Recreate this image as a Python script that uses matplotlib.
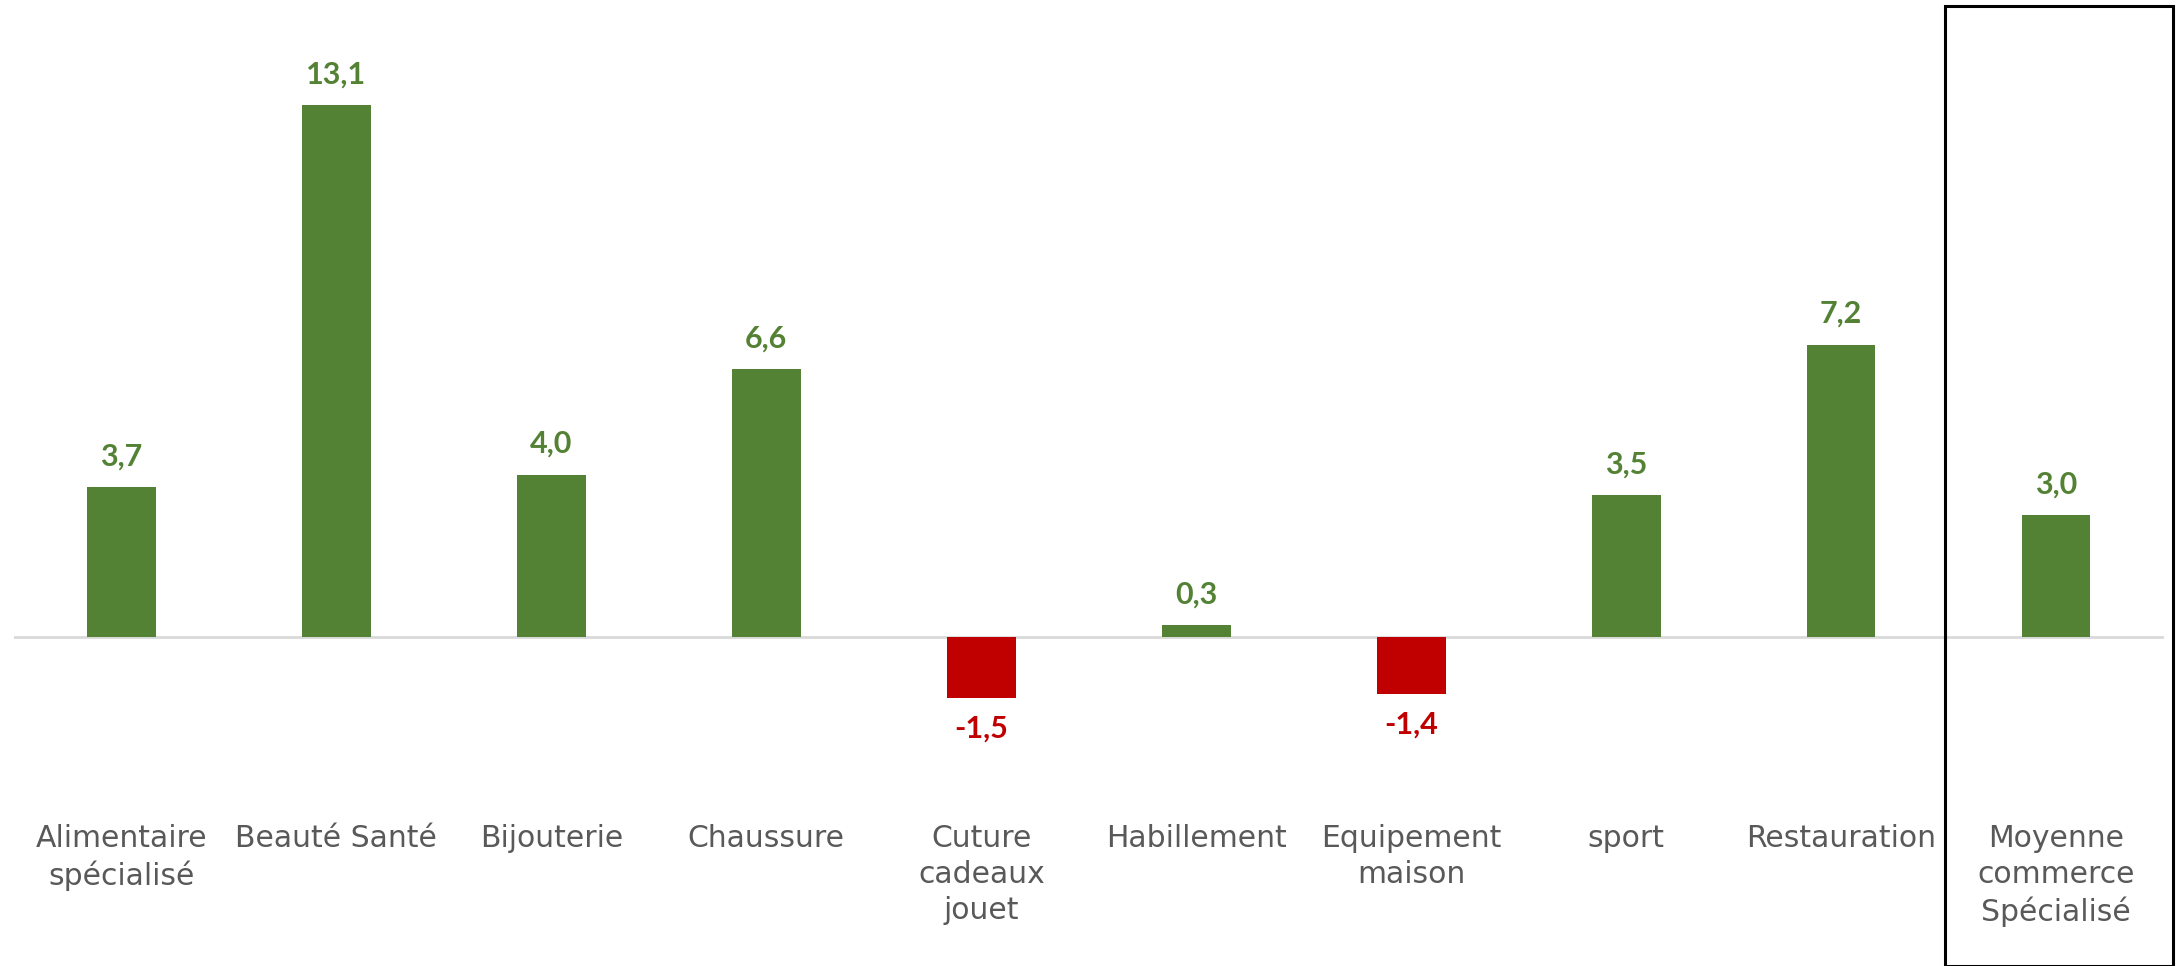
import matplotlib
matplotlib.use("Agg")
import matplotlib.pyplot as plt
from matplotlib.patches import Rectangle

categories = ["Alimentaire\nspécialisé", "Beauté Santé", "Bijouterie", "Chaussure",
              "Cuture\ncadeaux\njouet", "Habillement", "Equipement\nmaison", "sport",
              "Restauration", "Moyenne\ncommerce\nSpécialisé"]
values = [3.7, 13.1, 4.0, 6.6, -1.5, 0.3, -1.4, 3.5, 7.2, 3.0]
labels = ["3,7", "13,1", "4,0", "6,6", "-1,5", "0,3", "-1,4", "3,5", "7,2", "3,0"]

green = "#548235"
red = "#C00000"
colors = [green if v >= 0 else red for v in values]

W, H = 2177, 966
fig = plt.figure(figsize=(W / 100, H / 100), dpi=100)
ax = fig.add_axes([14 / W, 1 - 780 / H, (2163.5 - 14) / W, (780 - 20) / H])

x = range(len(values))
ax.bar(x, values, width=0.32, color=colors, zorder=2)
ax.axhline(0, color="#D9D9D9", lw=2, zorder=1)

for i, (v, t) in enumerate(zip(values, labels)):
    if v >= 0:
        ax.annotate(t, (i, v), xytext=(0, 12), textcoords="offset points",
                    ha="center", va="bottom", color=green, fontsize=22,
                    fontweight="bold", family="Lato")
    else:
        ax.annotate(t, (i, v), xytext=(0, -12), textcoords="offset points",
                    ha="center", va="top", color=red, fontsize=22,
                    fontweight="bold", family="Lato")

ax.set_xlim(-0.5, len(values) - 0.5)
ax.set_ylim(-(780 - 637) / 40.6, (637 - 20) / 40.6)
ax.set_xticks(list(x))
ax.set_xticklabels(categories, fontsize=21.5, color="#595959", linespacing=1.3,
                   family="DejaVu Sans")
ax.tick_params(axis="x", length=0, pad=32)
ax.set_yticks([])
for s in ax.spines.values():
    s.set_visible(False)

# encadré autour de la moyenne
fig.add_artist(Rectangle((1945 / W, 0), (2173 - 1945) / W, 1 - 6 / H,
                         transform=fig.transFigure, fill=False,
                         edgecolor="black", lw=2.2, clip_on=False))

fig.savefig("out.png", dpi=100)
